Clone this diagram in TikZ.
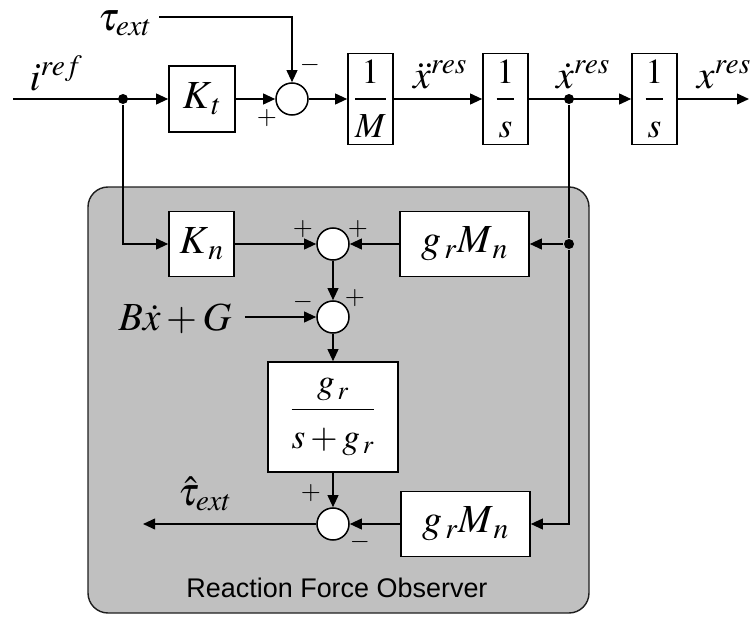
\documentclass[tikz,border=0pt]{standalone}
\usepackage{amsmath}
\usepackage{mathptmx}
\usepackage{fontspec}
\setmainfont{Liberation Serif}
\newfontfamily\arialfont{Liberation Sans}
\usetikzlibrary{arrows.meta,positioning,calc}
\definecolor{rfogris}{RGB}{192,192,192}
\definecolor{rfotrait}{RGB}{30,30,30}
% spread-out fraction for the blocks
\newcommand{\blkfrac}[2]{\dfrac{\rule[-9pt]{0pt}{0pt}#1}{\rule{0pt}{29pt}#2}}

\begin{document}
\begin{tikzpicture}[x=0.03cm, y=-0.03cm, line width=1.5pt,
  >={Triangle[length=3.6mm,width=3.2mm]},
  blk/.style={rectangle, draw, fill=white, line width=1.3pt, inner sep=1pt,
    font=\fontsize{34}{40}\selectfont},
  frc/.style={blk, font=\fontsize{30}{36}\selectfont},
  sum/.style={circle, draw, fill=white, minimum size=0.96cm, inner sep=0pt,
    line width=1.3pt},
  sig/.style={font=\fontsize{22}{24}\selectfont, inner sep=0pt},
  lbl/.style={font=\fontsize{34}{40}\selectfont, inner sep=0pt, anchor=base},
  dot/.style={circle, fill, inner sep=0pt, minimum size=0.3cm}
]
  \useasboundingbox (0,0) rectangle (751,617);

  % observer background
  \draw[rfotrait, fill=rfogris, line width=1.2pt, rounded corners=0.6cm]
    (88,187) rectangle (589,613);
  \node[font=\arialfont\fontsize{23}{27}\selectfont, anchor=base] (rfo) at (337,597)
    {Reaction Force Observer};

  % plant
  \coordinate (in) at (13,99);
  \node[dot] (j1) at (123,99) {};
  \node[blk, minimum width=1.98cm, minimum height=1.98cm] (Kt) at (202,99) {$K_{\,t}$};
  \node[sum] (s1) at (292,99) {};
  \node[frc, minimum width=1.35cm, minimum height=2.73cm] (invM) at (370.5,99) {$\blkfrac{1}{M}$};
  \node[frc, minimum width=1.35cm, minimum height=2.73cm] (int1) at (505.5,99) {$\blkfrac{1}{s}$};
  \node[dot] (j2) at (569,99) {};
  \node[frc, minimum width=1.35cm, minimum height=2.73cm] (int2) at (654.5,99) {$\blkfrac{1}{s}$};
  \coordinate (out) at (749,99);

  \node[lbl] (iref) at (56,90) {$i^{ref}$};
  \node[lbl] (tau) at (125,30) {$\tau_{ext}$};
  \coordinate (t0) at (159,17);
  \node[lbl] (acc) at (440,88) {$\ddot{x}^{res}$};
  \node[lbl] (vel) at (583,88) {$\dot{x}^{res}$};
  \node[lbl, anchor=base west] (pos) at (696,88) {$x^{res}$};

  % observer
  \node[blk, minimum width=1.95cm, minimum height=1.95cm] (Kn) at (201.5,244) {$K_{\,n}$};
  \node[sum] (s2) at (333,244) {};
  \node[blk, minimum width=3.87cm, minimum height=1.95cm] (gm1) at (464.5,244) {$g_{\,r}M_{\,n}$};
  \node[dot] (j3) at (569,244) {};
  \node[sum] (s3) at (333,317) {};
  \node[lbl, outer xsep=0.4cm] (bg) at (175,330) {$B\dot{x}+G$};
  \node[frc, minimum width=3.9cm, minimum height=3.3cm] (filt) at (333,417) {$\blkfrac{g_{\,r}}{s+g_{\,r}}$};
  \node[sum] (s4) at (333,524) {};
  \node[blk, minimum width=3.87cm, minimum height=1.95cm] (gm2) at (465.5,524) {$g_{\,r}M_{\,n}$};
  \coordinate (est) at (143,524);
  \node[lbl] (tauh) at (205,505) {$\hat{\tau}_{ext}$};

  % signs
  \node[sig] at (310,65) {$-$};
  \node[sig] at (267,118) {$+$};
  \node[sig] at (303,229) {$+$};
  \node[sig] at (358,229) {$+$};
  \node[sig] at (303,302) {$-$};
  \node[sig] at (355,298) {$+$};
  \node[sig] at (311,493) {$+$};
  \node[sig] at (360,542) {$-$};

  % connections
  \draw[->] (in) -- (Kt);
  \draw[->] (Kt) -- (s1);
  \draw[->] (t0) -| (s1);
  \draw[->] (s1) -- (invM);
  \draw[->] (invM) -- (int1);
  \draw[->] (int1) -- (int2);
  \draw[->] (int2) -- (out);
  \draw[->] (j1) |- (Kn);
  \draw[->] (Kn) -- (s2);
  \draw[->] (j2) -- (j3) |- (gm2);
  \draw[->] (j3) -- (gm1);
  \draw[->] (gm1) -- (s2);
  \draw[->] (s2) -- (s3);
  \draw[->] (bg.east |- s3) -- (s3);
  \draw[->] (s3) -- (filt);
  \draw[->] (filt) -- (s4);
  \draw[->] (gm2) -- (s4);
  \draw[->] (s4) -- (est);
\end{tikzpicture}
\end{document}
